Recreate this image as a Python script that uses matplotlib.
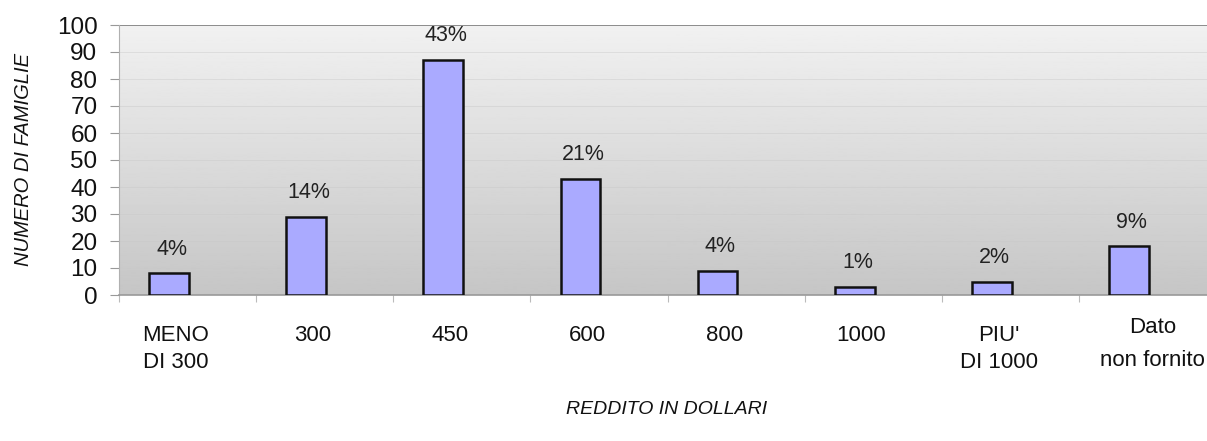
"""
Distribuzione delle famiglie per reddito (dollari) — bar chart with
percentage labels above each bar, Excel-style grey gradient backdrop.
"""

import numpy as np
import matplotlib.pyplot as plt
import matplotlib.transforms as mtransforms

CATEGORIES = ["MENO\nDI 300", "300", "450", "600", "800", "1000",
              "PIU'\nDI 1000", "Dato\nnon fornito"]
FAMILIES = [8, 29, 87, 43, 9, 3, 5, 18]
PERCENT_LABELS = ["4%", "14%", "43%", "21%", "4%", "1%", "2%", "9%"]
Y_TICKS = list(range(0, 101, 10))

PLAIN = ["Liberation Sans", "DejaVu Sans"]

fig = plt.figure(figsize=(12.07, 4.41), dpi=100)
fig.patch.set_facecolor("white")
# axes run a little past the right edge of the picture, as in the source
ax = fig.add_axes([119 / 1207, 1 - 295 / 441, (1216 - 119) / 1207, 270 / 441])

# grey vertical gradient behind the bars
grad = np.linspace(0.945, 0.775, 256).reshape(-1, 1)
ax.imshow(grad, extent=[0, 1, 0, 1], transform=ax.transAxes, aspect="auto",
          cmap="gray", vmin=0, vmax=1, zorder=0)

x = np.arange(len(CATEGORIES))
offset = 0.365  # bars sit left of the category centre
bars = ax.bar(x, FAMILIES, width=0.29, color="#aaaaff", edgecolor="#111111",
              linewidth=1.8, zorder=3)

for bar, lab in zip(bars, PERCENT_LABELS):
    ax.annotate(lab, (bar.get_x() + bar.get_width() / 2, bar.get_height()),
                xytext=(2, 10), textcoords="offset points",
                ha="center", va="bottom", fontsize=15.5, family=PLAIN,
                color="#222222", zorder=4)

ax.set_xlim(-offset, len(CATEGORIES) - offset)
ax.set_ylim(0, 100)
ax.set_yticks(Y_TICKS)
ax.set_yticklabels([str(t) for t in Y_TICKS], fontsize=17.5, family=PLAIN,
                   color="#111111")
ax.tick_params(axis="y", length=6.5, width=0.8, color="#999999", pad=9)
for t in Y_TICKS[1:]:
    ax.axhline(t, color="#c8c8c8", linewidth=0.6, alpha=0.5, zorder=1)

# category boundaries as downward ticks, no labels on them
ax.set_xticks(np.arange(len(CATEGORIES) + 1) - offset)
ax.set_xticklabels([])
ax.tick_params(axis="x", length=5, width=0.8, color="#bbbbbb")

trans = mtransforms.blended_transform_factory(ax.transData, ax.transAxes)
for i, lab in enumerate(CATEGORIES):
    if i == len(CATEGORIES) - 1:
        ax.text(x[i] + 0.17, -0.08, lab, transform=trans, ha="center",
                va="top", fontsize=16, family=PLAIN, linespacing=1.75,
                color="#111111")
    else:
        ax.text(x[i] + 0.05, -0.11, lab, transform=trans, ha="center",
                va="top", fontsize=16, family=PLAIN, linespacing=1.4,
                color="#111111")

for side in ("top", "right"):
    ax.spines[side].set_visible(False)
ax.axhline(100, color="#8c8c8c", linewidth=1.4, zorder=2)
ax.spines["bottom"].set_color("#999999")
ax.spines["bottom"].set_linewidth(1.2)
ax.spines["left"].set_color("#b0b0b0")
ax.spines["left"].set_linewidth(0.8)

fig.text(24 / 1207, 1 - 160 / 441, "NUMERO DI FAMIGLIE", rotation=90,
         ha="center", va="center", fontsize=14.5, style="italic", family=PLAIN,
         color="#111111")
fig.text(667 / 1207, 1 - 410 / 441, "REDDITO IN DOLLARI", ha="center",
         va="center", fontsize=14, style="italic", family=PLAIN,
         color="#111111")

fig.savefig("out.png", dpi=100)
